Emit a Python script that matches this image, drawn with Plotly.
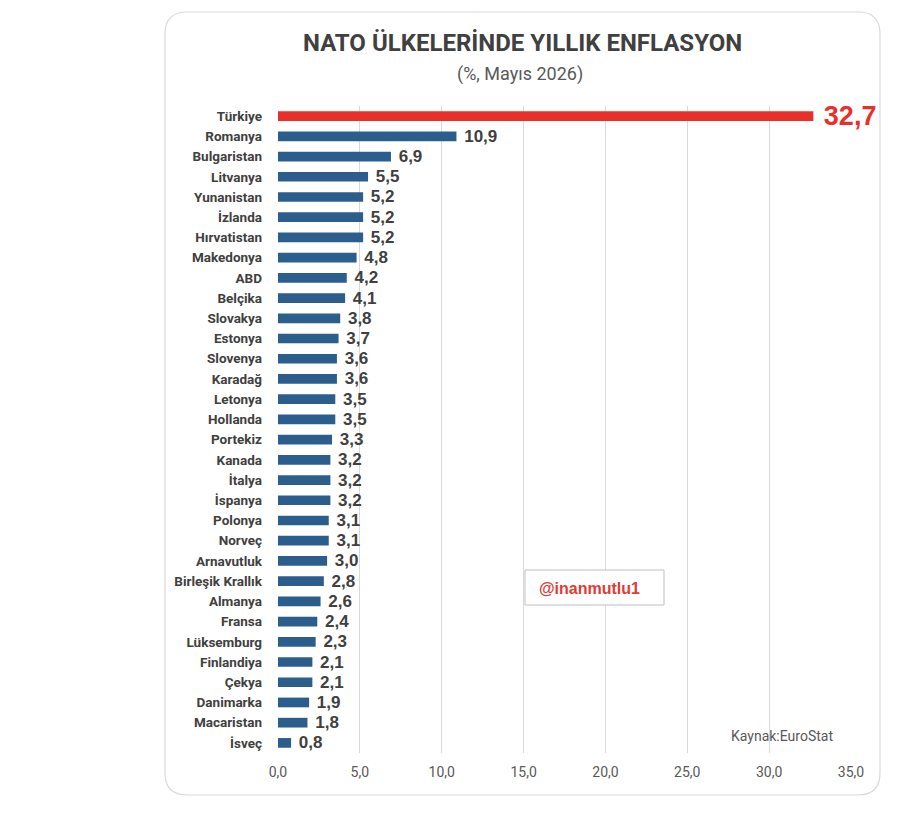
import plotly.graph_objects as go

countries = ["Türkiye", "Romanya", "Bulgaristan", "Litvanya", "Yunanistan", "İzlanda", "Hırvatistan",
             "Makedonya", "ABD", "Belçika", "Slovakya", "Estonya", "Slovenya", "Karadağ", "Letonya",
             "Hollanda", "Portekiz", "Kanada", "İtalya", "İspanya", "Polonya", "Norveç", "Arnavutluk",
             "Birleşik Krallık", "Almanya", "Fransa", "Lüksemburg", "Finlandiya", "Çekya", "Danimarka",
             "Macaristan", "İsveç"]
values = [32.7, 10.9, 6.9, 5.5, 5.2, 5.2, 5.2, 4.8, 4.2, 4.1, 3.8, 3.7, 3.6, 3.6, 3.5, 3.5, 3.3,
          3.2, 3.2, 3.2, 3.1, 3.1, 3.0, 2.8, 2.6, 2.4, 2.3, 2.1, 2.1, 1.9, 1.8, 0.8]
tick_vals = [0, 5, 10, 15, 20, 25, 30, 35]
tick_text = ["0,0", "5,0", "10,0", "15,0", "20,0", "25,0", "30,0", "35,0"]

BLUE = "#2B5E8C"
RED = "#E8302A"
DARK = "#404040"
GRAY = "#595959"
NARROW = "Roboto, Liberation Sans, sans-serif"
ARIAL = "Liberation Sans, Arial, sans-serif"

W, H = 900, 820
L, R, T, B = 278, 851, 106, 753


def px(x):
    return (x - L) / (R - L)


def py(y):
    return (B - y) / (B - T)


colors = [RED if c == "Türkiye" else BLUE for c in countries]
labels = ["\u00a0" + f"{v:.1f}".replace(".", ",") for v in values]
tsize = [27 if c == "Türkiye" else 17 for c in countries]
tcol = [RED if c == "Türkiye" else DARK for c in countries]

fig = go.Figure()
fig.add_trace(go.Bar(
    x=values, y=countries, orientation="h",
    marker=dict(color=colors, line=dict(width=0)),
    width=0.48,
    text=labels, textposition="outside", constraintext="none",
    textfont=dict(family=ARIAL, size=tsize, color=tcol, weight="bold"),
    cliponaxis=False, hoverinfo="skip",
))

# card with rounded corners
x0, x1, y0, y1, r = 165, 880, 12, 795, 22
path = (f"M {px(x0 + r)},{py(y0)} L {px(x1 - r)},{py(y0)} "
        f"Q {px(x1)},{py(y0)} {px(x1)},{py(y0 + r)} L {px(x1)},{py(y1 - r)} "
        f"Q {px(x1)},{py(y1)} {px(x1 - r)},{py(y1)} L {px(x0 + r)},{py(y1)} "
        f"Q {px(x0)},{py(y1)} {px(x0)},{py(y1 - r)} L {px(x0)},{py(y0 + r)} "
        f"Q {px(x0)},{py(y0)} {px(x0 + r)},{py(y0)} Z")
shapes = [
    dict(type="path", path=path, xref="paper", yref="paper",
         line=dict(color="#D9D9D9", width=1.2), fillcolor="rgba(0,0,0,0)", layer="below"),
    dict(type="rect", xref="paper", yref="paper",
         x0=px(525), x1=px(664), y0=py(605), y1=py(570),
         line=dict(color="#BFBFBF", width=1), fillcolor="white"),
]

annotations = [
    dict(text="<b>NATO ÜLKELERİNDE YILLIK ENFLASYON</b>", x=px(522), y=py(43), xref="paper", yref="paper",
         showarrow=False, font=dict(family=NARROW, size=24, color=DARK), xanchor="center", yanchor="middle"),
    dict(text="(%, Mayıs 2026)", x=px(520), y=py(74), xref="paper", yref="paper",
         showarrow=False, font=dict(family=NARROW, size=18, color=GRAY), xanchor="center", yanchor="middle"),
    dict(text="<b>@inanmutlu1</b>", x=px(589), y=py(588), xref="paper", yref="paper",
         showarrow=False, font=dict(family=ARIAL, size=16, color="#E03A34"),
         xanchor="center", yanchor="middle"),
    dict(text="Kaynak:EuroStat", x=px(835), y=py(736), xref="paper", yref="paper",
         showarrow=False, font=dict(family=NARROW, size=14, color=GRAY), xanchor="right", yanchor="middle"),
]

fig.update_layout(
    width=W, height=H,
    margin=dict(l=L, r=W - R, t=T, b=H - B, pad=0),
    paper_bgcolor="white", plot_bgcolor="white",
    showlegend=False,
    shapes=shapes, annotations=annotations,
    bargap=0.5,
    xaxis=dict(range=[0, 35], tickvals=tick_vals, ticktext=tick_text,
               showgrid=True, gridcolor="#D9D9D9", gridwidth=1, zeroline=False,
               showline=False, ticks="", ticklabelstandoff=9,
               tickfont=dict(family=NARROW, size=14, color=GRAY)),
    yaxis=dict(categoryorder="array", categoryarray=countries, autorange="reversed",
               showgrid=False, zeroline=False, showline=False, ticks="",
               ticklabelstandoff=15,
               tickfont=dict(family=NARROW, size=13.5, color=DARK, weight="bold")),
)

fig.write_html("out.html")
